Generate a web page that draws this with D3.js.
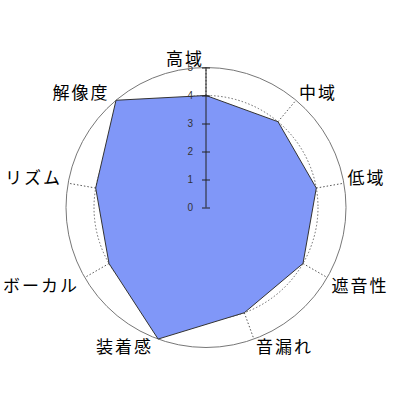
<!DOCTYPE html>
<html>
<head>
<meta charset="utf-8">
<script src="https://cdn.jsdelivr.net/npm/d3@7"></script>
<style>
  html, body { margin: 0; padding: 0; background: #fff; }
  svg { display: block; }
</style>
</head>
<body>
<div id="chart"></div>
<script>
// axes, clockwise from the top
const categories = ['高域', '中域', '低域', '遮音性', '音漏れ', '装着感', 'ボーカル', 'リズム', '解像度'];
const scores = [4, 4, 4, 4, 4, 5, 4, 4, 5];
const levels = [0, 1, 2, 3, 4, 5];

const width = 400, height = 400;
const cx = 206, cy = 207.5, R = 140;

const svg = d3.select('#chart').append('svg')
  .attr('width', width)
  .attr('height', height);

const g = svg.append('g').attr('transform', `translate(${cx},${cy})`);

const r = d3.scaleLinear().domain([0, 5]).range([0, R]);
const angle = d3.scalePoint()
  .domain(categories)
  .range([0, 2 * Math.PI * (categories.length - 1) / categories.length]);

// grid rings (dotted inside, solid outer)
g.selectAll('circle.ring')
  .data(levels.slice(1))
  .enter()
  .append('circle')
  .attr('class', 'ring')
  .attr('r', d => r(d))
  .attr('fill', 'none')
  .attr('stroke', d => d === 5 ? '#777' : '#666')
  .attr('stroke-width', 1)
  .attr('stroke-dasharray', d => d === 5 ? null : '1.5,2');

// spokes
g.selectAll('line.spoke')
  .data(categories)
  .enter()
  .append('line')
  .attr('class', 'spoke')
  .attr('x1', 0).attr('y1', 0)
  .attr('x2', d => r(5) * Math.sin(angle(d)))
  .attr('y2', d => -r(5) * Math.cos(angle(d)))
  .attr('stroke', '#555')
  .attr('stroke-width', 1)
  .attr('stroke-dasharray', '1.5,2');

// score polygon
const radial = d3.lineRadial()
  .angle((d, i) => angle(categories[i]))
  .radius(d => r(d))
  .curve(d3.curveLinearClosed);

g.append('path')
  .datum(scores)
  .attr('d', radial)
  .attr('fill', '#8097f8')
  .attr('stroke', '#333')
  .attr('stroke-width', 1);

// vertical scale axis on the first spoke
const yAxis = d3.scaleLinear().domain([0, 5]).range([0, -R]);
const ax = g.append('g')
  .call(d3.axisLeft(yAxis).tickValues(levels).tickFormat(d3.format('d')).tickSize(4));
ax.select('.domain').attr('stroke', '#222').attr('d', `M0,0V${-R}`);
ax.selectAll('.tick line').attr('x1', 4).attr('x2', -4).attr('stroke', '#222');
ax.selectAll('.tick text')
  .attr('x', -13)
  .attr('fill', '#333')
  .style('font-family', '"Liberation Sans", Arial, sans-serif')
  .style('font-size', '10px');

// category labels
const labelR = 165;
const nudge = [[-21, 15], [6, 10], [-2, -2], [11, -6], [22, -17], [-25, -17], [-22, -6], [-10, -2], [-19, 10]];
g.selectAll('text.cat')
  .data(categories)
  .enter()
  .append('text')
  .attr('class', 'cat')
  .attr('x', (d, i) => labelR * Math.sin(angle(d)) + nudge[i][0])
  .attr('y', (d, i) => -labelR * Math.cos(angle(d)) + nudge[i][1])
  .attr('text-anchor', 'middle')
  .attr('dominant-baseline', 'central')
  .style('font-family', '"Noto Sans CJK JP", sans-serif')
  .style('font-size', '17px')
  .style('letter-spacing', '2px')
  .attr('fill', '#000')
  .text(d => d);
</script>
</body>
</html>
